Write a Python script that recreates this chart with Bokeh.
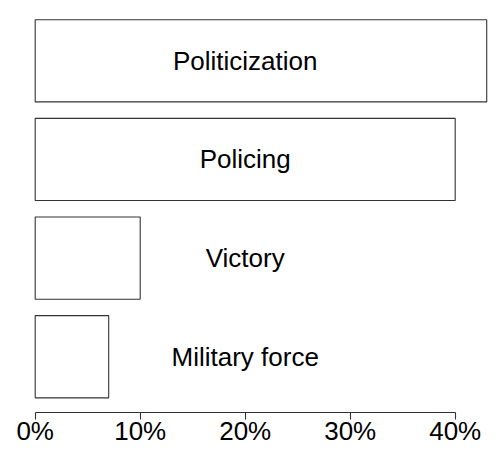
from bokeh.plotting import figure
from bokeh.models import Range1d, FixedTicker
from bokeh.core.properties import value
from bokeh.embed import file_html
from bokeh.resources import INLINE

# Data (bottom to top)
categories = ["Military force", "Victory", "Policing", "Politicization"]
shares = [7, 10, 40, 43]
tick_values = [0, 10, 20, 30, 40]
tick_labels = ["0%", "10%", "20%", "30%", "40%"]

# barplot-style layout: bar height 1, spacing 0.2
positions = [0.7 + 1.2 * i for i in range(len(categories))]
label_x = (tick_values[0] + tick_values[-1]) / 2

p = figure(width=500, height=457, output_backend="svg", toolbar_location=None,
           x_range=Range1d(-3.305, 44.314), y_range=Range1d(0.022, 5.0335),
           min_border_left=0, min_border_right=0, min_border_top=0, min_border_bottom=45,
           y_axis_location=None)
p.outline_line_color = None
p.xgrid.visible = False
p.ygrid.visible = False
p.background_fill_color = "white"
p.border_fill_color = "white"

p.hbar(y=positions, left=0, right=shares, height=1.0,
       fill_color="white", line_color="#333333", line_width=1.1)

p.text(x=[label_x] * len(categories), y=positions, text=categories,
       text_align="center", text_baseline="middle",
       text_font=value("Liberation Sans"), text_font_size="26px", text_color="black")

ax = p.xaxis[0]
ax.ticker = FixedTicker(ticks=tick_values, minor_ticks=[])
ax.major_label_overrides = {v: s for v, s in zip(tick_values, tick_labels)}
ax.bounds = (tick_values[0], tick_values[-1])
ax.axis_line_color = "#333333"
ax.axis_line_width = 1.1
ax.major_tick_line_color = "#333333"
ax.major_tick_line_width = 1.1
ax.major_tick_out = 7
ax.major_tick_in = 0
ax.minor_tick_line_color = None
ax.major_label_standoff = -4
ax.major_label_text_font = "Liberation Sans"
ax.major_label_text_font_size = "26px"
ax.major_label_text_color = "black"

open("out.html", "w").write(file_html(p, INLINE))
